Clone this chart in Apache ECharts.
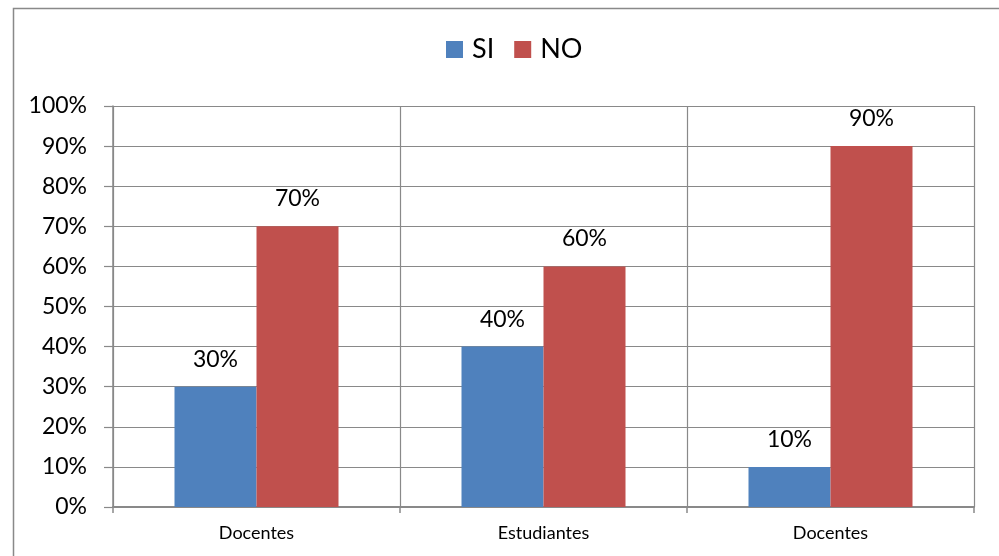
<!DOCTYPE html>
<html>
<head>
<meta charset="utf-8">
<script src="https://cdn.jsdelivr.net/npm/echarts@6/dist/echarts.min.js"></script>
<style>html,body{margin:0;padding:0;background:#fff}#c{width:999px;height:556px}</style>
</head>
<body>
<div id="c"></div>
<script>
const categories = ['Docentes', 'Estudiantes', 'Docentes'];
const siValues = [30, 40, 10];
const noValues = [70, 60, 90];
const seriesNames = ['SI', 'NO'];

const chart = echarts.init(document.getElementById('c'), null, {renderer: 'canvas'});
const gray = '#898989';
const font = 'Lato';
chart.setOption({
  animation: false,
  backgroundColor: '#fff',
  graphic: [{
    type: 'rect', left: 11, top: 6, z: 100,
    shape: {width: 1200, height: 800},
    style: {fill: 'none', stroke: gray, lineWidth: 1.5}
  }],
  legend: {
    data: seriesNames,
    top: 31, left: 441,
    itemWidth: 17, itemHeight: 17, itemGap: 20,
    icon: 'rect',
    textStyle: {fontFamily: font, fontSize: 27, color: '#000', padding: [0, 0, 0, 4]}
  },
  grid: {left: 113, right: 25, top: 106, bottom: 49, containLabel: false},
  xAxis: {
    type: 'category',
    data: categories,
    axisLine: {lineStyle: {color: gray, width: 2}},
    axisTick: {show: true, length: 6, lineStyle: {color: gray, width: 1.5}},
    splitLine: {show: true, lineStyle: {color: gray, width: 1.2}},
    axisLabel: {fontFamily: font, fontSize: 18, color: '#000', margin: 17}
  },
  yAxis: {
    type: 'value', min: 0, max: 100, interval: 10,
    axisLine: {show: true, lineStyle: {color: gray, width: 1.5}},
    axisTick: {show: true, length: 9, lineStyle: {color: gray, width: 1.2}},
    splitLine: {show: true, lineStyle: {color: gray, width: 1.2}},
    axisLabel: {fontFamily: font, fontSize: 23, color: '#000', margin: 26, formatter: '{value}%'}
  },
  series: [
    {
      name: seriesNames[0], type: 'bar', data: siValues, barWidth: 82, barGap: '0%',
      itemStyle: {color: '#4F81BD'},
      label: {show: true, position: 'top', distance: 16, fontFamily: font, fontSize: 23, color: '#000', formatter: '{c}%'}
    },
    {
      name: seriesNames[1], type: 'bar', data: noValues, barWidth: 82, barGap: '0%',
      itemStyle: {color: '#C0504D'},
      label: {show: true, position: 'top', distance: 16, fontFamily: font, fontSize: 23, color: '#000', formatter: '{c}%'}
    }
  ]
});
</script>
</body>
</html>
